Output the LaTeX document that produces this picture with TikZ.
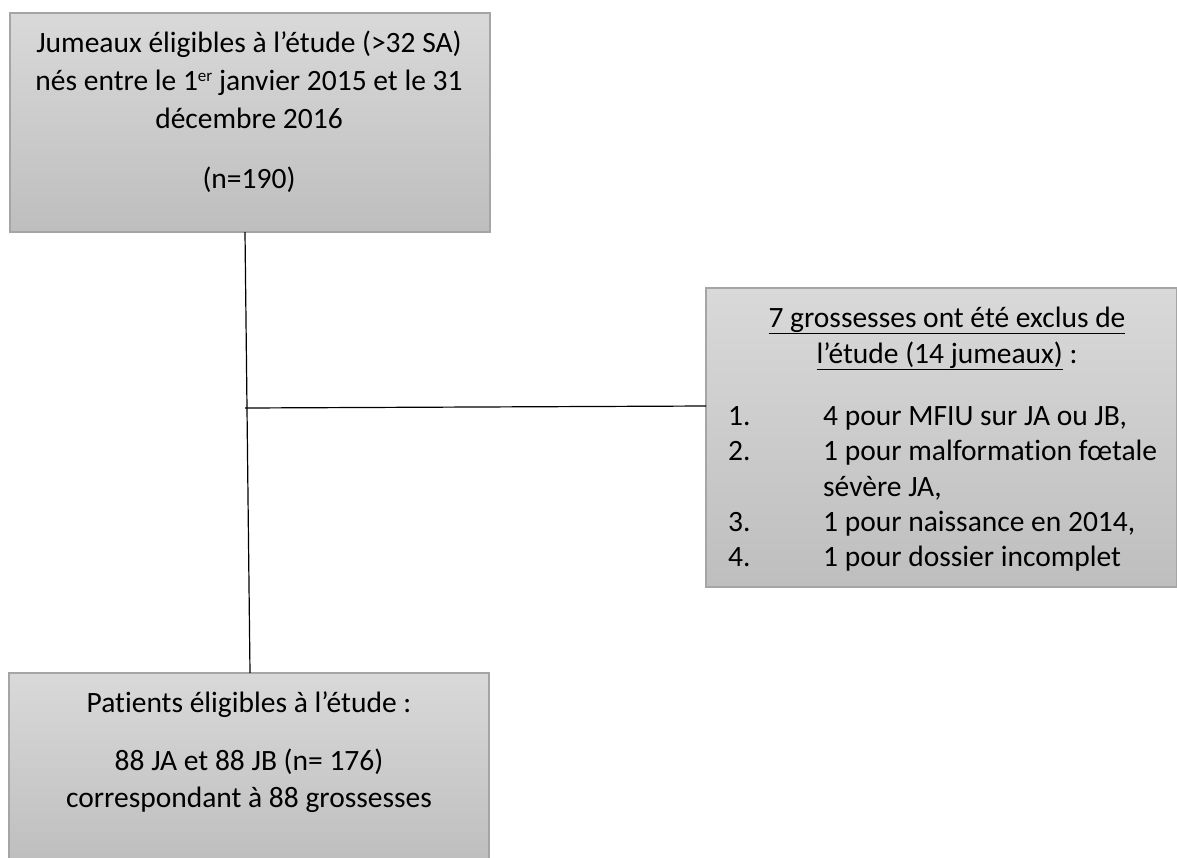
\documentclass[tikz,border=0pt]{standalone}
\usepackage{fontspec}
\setmainfont{Carlito}[Ligatures=CommonOff]
\definecolor{boxtop}{RGB}{217,217,217}
\definecolor{boxbot}{RGB}{190,190,190}
\definecolor{boxedge}{RGB}{165,165,165}
\newcommand{\mysup}[1]{\raisebox{9pt}{\fontsize{17}{17}\selectfont #1}}
\tikzset{
  gbox/.style={draw=boxedge, line width=1.3pt, top color=boxtop, bottom color=boxbot,
    anchor=north west, inner sep=0pt, outer sep=0pt},
  txt/.style={anchor=base, inner sep=0pt, font=\fontsize{29.5}{35}\selectfont},
  txtl/.style={anchor=base west, inner sep=0pt, font=\fontsize{29.5}{35}\selectfont},
  conn/.style={draw=black, line width=1.2pt}
}
\begin{document}
\begin{tikzpicture}[x=1pt,y=-1pt]
\useasboundingbox (0,0) rectangle (1177,857);
% boxes
\node[gbox, minimum width=480pt, minimum height=219pt] (b1) at (10,13) {};
\node[gbox, minimum width=471pt, minimum height=299pt] (b2) at (706,288) {};
\node[gbox, minimum width=480pt, minimum height=190pt] (b3) at (9,673) {};
% box 1 text
\node[txt] (t11) at (249,52) {Jumeaux éligibles à l’étude (>32 SA)};
\node[txt] (t12) at (249,90) {nés entre le 1\mysup{er} janvier 2015 et le 31};
\node[txt] (t13) at (249,128) {décembre 2016};
\node[txt] (t14) at (249,188) {(n=190)};
% box 2 text
\node[txt] (t21) at (947,327) {\underline{7 grossesses ont été exclus de}};
\node[txt] (t22) at (947,363) {\underline{l’étude (14 jumeaux)} :};
\node[txtl] (n1) at (728,425) {1.};
\node[txtl] (n2) at (728,460) {2.};
\node[txtl] (n3) at (728,531) {3.};
\node[txtl] (n4) at (728,566) {4.};
\node[txtl] (l1) at (823,425) {4 pour MFIU sur JA ou JB,};
\node[txtl] (l2) at (823,460) {1 pour malformation fœtale};
\node[txtl] (l2b) at (823,496) {sévère JA,};
\node[txtl] (l3) at (823,531) {1 pour naissance en 2014,};
\node[txtl] (l4) at (823,566) {1 pour dossier incomplet};
% box 3 text
\node[txt] (t31) at (249,712) {Patients éligibles à l’étude :};
\node[txt] (t32) at (249,770) {88 JA et 88 JB (n= 176)};
\node[txt] (t33) at (249,807) {correspondant à 88 grossesses};
% connectors
\coordinate (top) at ([xshift=-5pt]b1.south);
\coordinate (bot) at ([xshift=1pt]b3.north);
\coordinate (j) at (245,408);
\draw[conn] (top) -- (bot);
\draw[conn] (j) -- ([yshift=2pt]b2.west |- j);
\end{tikzpicture}
\end{document}
